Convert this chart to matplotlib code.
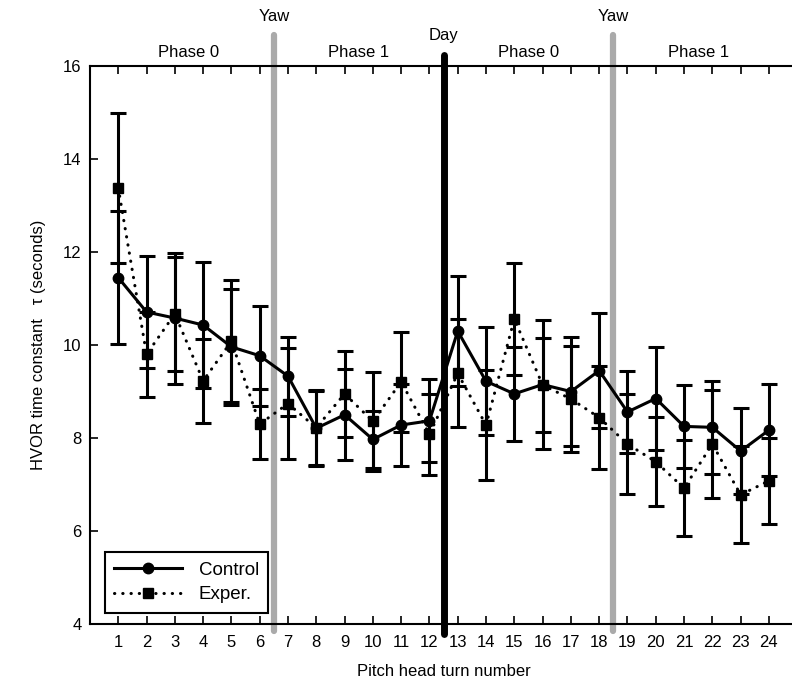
import numpy as np
import matplotlib
matplotlib.use('Agg')
import matplotlib.pyplot as plt
from matplotlib.lines import Line2D

plt.rcParams['font.family'] = ['Liberation Sans', 'DejaVu Sans']

# pitch head turn number
turns = list(range(1, 25))

# Control group: mean tau and error bar half-length (seconds)
control = [11.45, 10.71, 10.58, 10.43, 9.96, 9.77, 9.33, 8.21, 8.50, 7.97, 8.28, 8.37,
           10.30, 9.22, 8.95, 9.15, 9.00, 9.45, 8.56, 8.85, 8.25, 8.23, 7.72, 8.17]
control_err = [1.43, 1.20, 1.41, 1.36, 1.25, 1.08, 0.85, 0.82, 0.98, 0.61, 0.88, 0.89,
               1.18, 1.16, 1.01, 1.38, 1.17, 1.23, 0.88, 1.11, 0.90, 1.00, 0.92, 0.99]

# Experimental group
exper = [13.38, 9.80, 10.67, 9.23, 10.08, 8.30, 8.74, 8.22, 8.95, 8.36, 9.21, 8.08,
         9.39, 8.28, 10.56, 9.14, 8.84, 8.44, 7.87, 7.49, 6.92, 7.87, 6.78, 7.08]
exper_err = [1.62, 0.92, 1.22, 0.91, 1.31, 0.75, 1.20, 0.80, 0.93, 1.07, 1.08, 0.87,
             1.16, 1.18, 1.21, 1.02, 1.13, 1.11, 1.08, 0.96, 1.03, 1.16, 1.04, 0.92]

# session boundaries and labels
yaw_pos = [6.5, 18.5]
day_pos = [12.5]
phase_pos = [3.5, 9.5, 15.5, 21.5]
phase_labels = ['Phase 0', 'Phase 1', 'Phase 0', 'Phase 1']

dotted = (0, (0.1, 2.6))

fig = plt.figure(figsize=(7.92, 6.88), dpi=100)
ax = fig.add_axes([0.1136, 0.093, 0.893, 0.811])

ax.errorbar(turns, exper, yerr=exper_err, color='black', lw=2.2,
            linestyle=dotted, dash_capstyle='round',
            marker='s', markersize=6.5, elinewidth=2.2, capsize=6, capthick=2.2,
            zorder=3)
ax.errorbar(turns, control, yerr=control_err, color='black', lw=2.2,
            marker='o', markersize=7.5, elinewidth=2.2, capsize=6, capthick=2.2,
            zorder=4)

tr = ax.get_xaxis_transform()
for x in yaw_pos:
    ax.plot([x, x], [-0.012, 1.056], transform=tr, color='#aaaaaa', lw=4.5,
            solid_capstyle='round', clip_on=False, zorder=2)
    ax.text(x, 1.088, 'Yaw', transform=tr, ha='center', va='center', fontsize=12)
for x in day_pos:
    ax.plot([x, x], [-0.018, 1.02], transform=tr, color='black', lw=5,
            solid_capstyle='round', clip_on=False, zorder=5)
    ax.text(x, 1.055, 'Day', transform=tr, ha='center', va='center', fontsize=12)
for x, s in zip(phase_pos, phase_labels):
    ax.text(x, 1.025, s, transform=tr, ha='center', va='center', fontsize=12)

ax.set_xlim(0, 25)
ax.set_ylim(4, 16)
ax.set_xticks(turns)
ax.set_yticks([4, 6, 8, 10, 12, 14, 16])
ax.tick_params(direction='in', top=True, right=False, length=6, width=1.2,
               labelsize=12, pad=8)
ax.tick_params(axis='y', pad=6)
ax.spines['right'].set_visible(False)
for s in ['left', 'bottom', 'top']:
    ax.spines[s].set_linewidth(1.5)

ax.set_xlabel('Pitch head turn number', fontsize=12, labelpad=10)
ax.set_ylabel('HVOR time constant   \u03c4 (seconds)', fontsize=12, labelpad=12)

handles = [
    Line2D([], [], color='black', lw=2.2, marker='o', markersize=7.5),
    Line2D([], [], color='black', lw=2.2, linestyle=dotted, dash_capstyle='round',
           marker='s', markersize=6.5),
]
leg = ax.legend(handles, ['Control', 'Exper.'], loc='lower left', fontsize=13.5,
                handlelength=3.6, handletextpad=0.9, numpoints=1, fancybox=False,
                edgecolor='black', framealpha=1, borderaxespad=0.6,
                bbox_to_anchor=(0.005, 0.0), borderpad=0.5, labelspacing=0.4)
leg.get_frame().set_linewidth(1.5)

fig.savefig('out.png', dpi=100)
